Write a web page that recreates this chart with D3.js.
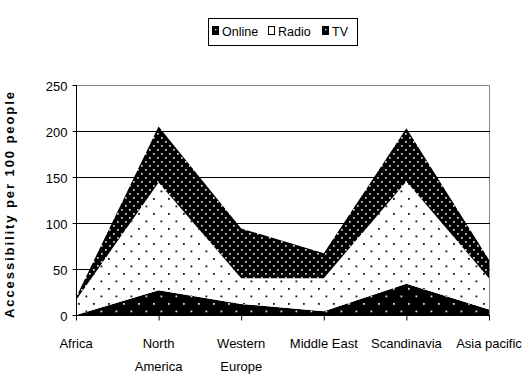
<!DOCTYPE html>
<html>
<head>
<meta charset="utf-8">
<script src="https://cdn.jsdelivr.net/npm/d3@7"></script>
<style>
  body { margin: 0; background: #fff; }
  text { font-family: "Liberation Sans", Arial, sans-serif; fill: #000; }
</style>
</head>
<body>
<svg id="chart" width="526" height="378"></svg>
<script>
// Media accessibility per 100 people, stacked by channel
const regions = ["Africa", "North America", "Western Europe", "Middle East", "Scandinavia", "Asia pacific"];
const regionLines = [["Africa"], ["North", "America"], ["Western", "Europe"], ["Middle East"], ["Scandinavia"], ["Asia pacific"]];
const online = [0, 27, 12, 4, 34, 6];
const radio = [16, 117, 28, 36, 111, 34];
const tv = [3, 61, 54, 27, 58, 20];
const seriesNames = ["Online", "Radio", "TV"];
const yTicks = [0, 50, 100, 150, 200, 250];
const yTitle = "Accessibility per 100 people";

const rows = regions.map((r, i) => ({ region: r, Online: online[i], Radio: radio[i], TV: tv[i] }));

const svg = d3.select("#chart");
const plot = { left: 76, right: 489, top: 85, bottom: 315 };

const x = d3.scalePoint().domain(regions).range([plot.left, plot.right]);
const y = d3.scaleLinear().domain([0, 250]).range([plot.bottom, plot.top]);

// Dot-screen fills for the three bands
const defs = svg.append("defs");
function dotPattern(id, w, h, bg, dot, pts, size) {
  const p = defs.append("pattern").attr("id", id)
    .attr("patternUnits", "userSpaceOnUse").attr("width", w).attr("height", h);
  p.append("rect").attr("width", w).attr("height", h).attr("fill", bg);
  pts.forEach(([px, py]) => p.append("rect").attr("x", px).attr("y", py)
    .attr("width", size).attr("height", size).attr("fill", dot));
}
dotPattern("pat-online", 15, 15, "#000", "#d8d8d8", [[3, 3], [10.5, 10.5]], 1.8);
dotPattern("pat-radio", 15, 15, "#fff", "#111", [[3, 3], [10.5, 10.5]], 1.8);
dotPattern("pat-tv", 8, 8, "#000", "#dcdcdc", [[1, 1], [5, 5]], 1.7);
const fills = { Online: "url(#pat-online)", Radio: "url(#pat-radio)", TV: "url(#pat-tv)" };

// Plot frame (top and right) in grey
svg.append("line").attr("x1", plot.left).attr("x2", plot.right + 1)
  .attr("y1", y(250) + 0.5).attr("y2", y(250) + 0.5).attr("stroke", "#888");
svg.append("line").attr("x1", plot.right + 0.5).attr("x2", plot.right + 0.5)
  .attr("y1", y(250)).attr("y2", plot.bottom + 1).attr("stroke", "#888");

// Gridlines
svg.append("g").selectAll("line").data(yTicks.filter(t => t > 0 && t < 250)).join("line")
  .attr("x1", plot.left).attr("x2", plot.right + 1)
  .attr("y1", d => Math.round(y(d)) + 0.5).attr("y2", d => Math.round(y(d)) + 0.5)
  .attr("stroke", "#000");

// Stacked areas
const stack = d3.stack().keys(seriesNames);
const layers = stack(rows);
const area = d3.area()
  .x(d => x(d.data.region))
  .y0(d => y(d[0]))
  .y1(d => y(d[1]));
svg.append("g").selectAll("path").data(layers).join("path")
  .attr("d", area)
  .attr("fill", d => fills[d.key]);

// Y axis
const yAxis = d3.axisLeft(y).tickValues(yTicks).tickSize(4).tickPadding(5);
const gy = svg.append("g").attr("transform", `translate(${plot.left + 0.5},0)`).call(yAxis);
gy.select(".domain").attr("stroke", "#000").attr("d", `M-0,${plot.top}V${plot.bottom + 4}`);
gy.selectAll(".tick line").attr("stroke", "#000");
gy.selectAll(".tick text").attr("font-size", 13).attr("font-family", "Liberation Sans, Arial, sans-serif")
  .attr("dy", "0.45em");

// X axis
const xAxis = d3.axisBottom(x).tickSize(5).tickFormat("");
const gx = svg.append("g").attr("transform", `translate(0,${plot.bottom + 0.5})`).call(xAxis);
gx.select(".domain").attr("stroke", "#000").attr("d", `M${plot.left},0H${plot.right + 1}`);
gx.selectAll(".tick line").attr("stroke", "#000");

const xl = svg.append("g").selectAll("text").data(regions).join("text")
  .attr("x", d => x(d)).attr("y", 348)
  .attr("text-anchor", "middle").attr("font-size", 13);
xl.selectAll("tspan").data((d, i) => regionLines[i]).join("tspan")
  .attr("x", function () { return d3.select(this.parentNode).attr("x"); })
  .attr("dy", (d, i) => i === 0 ? 0 : 23)
  .text(d => d);

// Y axis title
svg.append("text")
  .attr("transform", `translate(14,205) rotate(-90)`)
  .attr("text-anchor", "middle")
  .attr("font-size", 13).attr("font-weight", "bold")
  .attr("textLength", 226).attr("lengthAdjust", "spacing")
  .text(yTitle);

// Legend
const lg = svg.append("g");
lg.append("rect").attr("x", 208.5).attr("y", 18.5).attr("width", 149).attr("height", 27)
  .attr("fill", "#fff").attr("stroke", "#000");
const legendX = [212, 268, 322];
const items = lg.selectAll("g.item").data(seriesNames).join("g").attr("class", "item")
  .attr("transform", (d, i) => `translate(${legendX[i]},0)`);
items.append("rect").attr("x", 0.5).attr("y", 26.5).attr("width", 6).attr("height", 8)
  .attr("fill", d => d === "Radio" ? "#fff" : "#000").attr("stroke", "#000");
items.filter(d => d !== "Radio").append("rect").attr("x", 3).attr("y", 29)
  .attr("width", 1.4).attr("height", 1.4).attr("fill", "#ccc");
items.append("text").attr("x", 10).attr("y", 36).attr("font-size", 12.5).text(d => d);
</script>
</body>
</html>
